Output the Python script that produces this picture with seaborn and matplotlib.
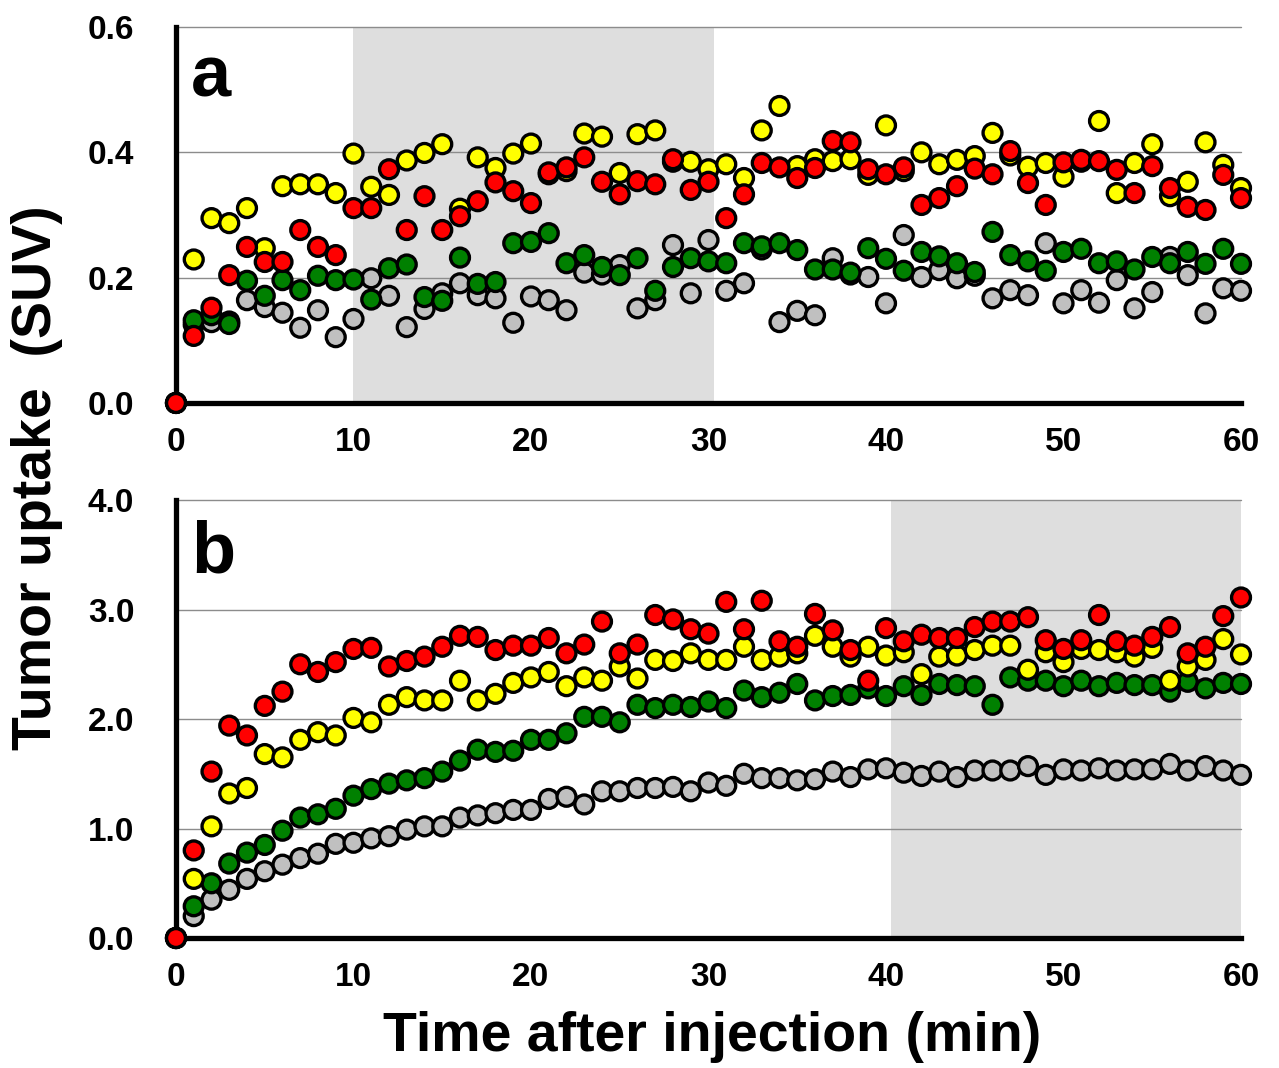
import numpy as np
import pandas as pd
import matplotlib.pyplot as plt
import seaborn as sns

minutes = list(range(61))

# panel a (SUV), minute 0..60
a_gray = [0, 0.125, 0.129, 0.13, 0.164, 0.153, 0.144, 0.12, 0.148, 0.105, 0.134,
          0.199, 0.171, 0.121, 0.15, 0.175, 0.191, 0.172, 0.167, 0.128, 0.17,
          0.164, 0.148, 0.208, 0.205, 0.22, 0.151, 0.164, 0.252, 0.175, 0.26,
          0.179, 0.191, 0.245, 0.129, 0.147, 0.14, 0.231, 0.205, 0.201, 0.159,
          0.268, 0.201, 0.212, 0.199, 0.203, 0.167, 0.18, 0.172, 0.255, 0.159,
          0.18, 0.16, 0.196, 0.151, 0.177, 0.233, 0.204, 0.143, 0.183, 0.179]
a_green = [0, 0.132, 0.14, 0.126, 0.195, 0.171, 0.196, 0.18, 0.203, 0.196, 0.197,
           0.165, 0.215, 0.221, 0.169, 0.163, 0.232, 0.19, 0.193, 0.255, 0.257,
           0.271, 0.223, 0.236, 0.217, 0.204, 0.231, 0.179, 0.217, 0.231, 0.226,
           0.223, 0.255, 0.25, 0.255, 0.244, 0.213, 0.213, 0.208, 0.247, 0.23,
           0.211, 0.241, 0.234, 0.223, 0.209, 0.273, 0.236, 0.226, 0.211, 0.241,
           0.246, 0.223, 0.226, 0.213, 0.233, 0.223, 0.241, 0.222, 0.246, 0.222]
a_yellow = [0, 0.229, 0.295, 0.287, 0.311, 0.247, 0.346, 0.349, 0.349, 0.335, 0.398,
            0.345, 0.332, 0.387, 0.399, 0.413, 0.31, 0.392, 0.375, 0.398, 0.414,
            0.365, 0.37, 0.43, 0.425, 0.367, 0.429, 0.435, 0.385, 0.385, 0.373,
            0.381, 0.359, 0.435, 0.474, 0.378, 0.389, 0.386, 0.389, 0.364, 0.443,
            0.37, 0.40, 0.381, 0.388, 0.394, 0.431, 0.395, 0.377, 0.383, 0.361,
            0.385, 0.45, 0.335, 0.383, 0.413, 0.33, 0.353, 0.416, 0.38, 0.343]
a_red = [0, 0.107, 0.152, 0.204, 0.249, 0.225, 0.225, 0.276, 0.249, 0.236, 0.311,
         0.311, 0.373, 0.276, 0.33, 0.276, 0.298, 0.322, 0.352, 0.338, 0.319,
         0.368, 0.376, 0.392, 0.353, 0.333, 0.354, 0.349, 0.389, 0.34, 0.353,
         0.295, 0.333, 0.383, 0.376, 0.359, 0.375, 0.418, 0.416, 0.373, 0.365,
         0.376, 0.316, 0.327, 0.346, 0.374, 0.365, 0.402, 0.351, 0.316, 0.384,
         0.388, 0.386, 0.372, 0.335, 0.378, 0.343, 0.313, 0.308, 0.364, 0.327]

# panel b (SUV), minute 0..60
b_gray = [0, 0.20, 0.35, 0.44, 0.54, 0.61, 0.67, 0.73, 0.77, 0.86, 0.87,
          0.91, 0.93, 0.99, 1.02, 1.02, 1.10, 1.12, 1.14, 1.17, 1.17,
          1.27, 1.29, 1.22, 1.34, 1.34, 1.37, 1.37, 1.38, 1.34, 1.42,
          1.39, 1.50, 1.46, 1.46, 1.44, 1.45, 1.52, 1.47, 1.54, 1.55,
          1.51, 1.48, 1.52, 1.47, 1.53, 1.53, 1.53, 1.57, 1.49, 1.54,
          1.53, 1.55, 1.53, 1.54, 1.54, 1.59, 1.53, 1.57, 1.53, 1.49]
b_green = [0, 0.29, 0.50, 0.68, 0.78, 0.85, 0.98, 1.10, 1.13, 1.18, 1.30,
           1.36, 1.41, 1.44, 1.46, 1.52, 1.62, 1.72, 1.70, 1.71, 1.81,
           1.81, 1.87, 2.02, 2.02, 1.97, 2.13, 2.10, 2.13, 2.11, 2.16,
           2.10, 2.26, 2.20, 2.24, 2.32, 2.17, 2.21, 2.22, 2.28, 2.21,
           2.30, 2.22, 2.32, 2.31, 2.30, 2.13, 2.38, 2.35, 2.35, 2.30,
           2.35, 2.30, 2.33, 2.31, 2.31, 2.25, 2.34, 2.28, 2.33, 2.32]
b_yellow = [0, 0.54, 1.02, 1.32, 1.37, 1.68, 1.65, 1.81, 1.88, 1.85, 2.01,
            1.97, 2.13, 2.20, 2.17, 2.17, 2.35, 2.17, 2.23, 2.33, 2.38,
            2.43, 2.30, 2.38, 2.35, 2.48, 2.37, 2.54, 2.53, 2.60, 2.54,
            2.54, 2.66, 2.54, 2.57, 2.60, 2.76, 2.66, 2.57, 2.66, 2.58,
            2.61, 2.41, 2.57, 2.58, 2.63, 2.67, 2.67, 2.45, 2.61, 2.52,
            2.64, 2.63, 2.61, 2.57, 2.65, 2.35, 2.48, 2.54, 2.73, 2.59]
b_red = [0, 0.80, 1.52, 1.94, 1.85, 2.12, 2.25, 2.50, 2.43, 2.52, 2.64,
         2.65, 2.48, 2.53, 2.57, 2.66, 2.76, 2.75, 2.63, 2.67, 2.67,
         2.74, 2.60, 2.68, 2.89, 2.60, 2.68, 2.95, 2.91, 2.82, 2.78,
         3.07, 2.82, 3.08, 2.71, 2.66, 2.96, 2.81, 2.63, 2.35, 2.83,
         2.71, 2.77, 2.74, 2.74, 2.84, 2.89, 2.89, 2.93, 2.72, 2.64,
         2.72, 2.95, 2.71, 2.67, 2.75, 2.84, 2.60, 2.66, 2.94, 3.11]

series_names = ["gray", "green", "yellow", "red"]
palette = {"gray": "#c0c0c0", "green": "#008000", "yellow": "#ffff00", "red": "#ff0000"}


def long_df(gray, green, yellow, red):
    frames = []
    for name, vals in zip(series_names, [gray, green, yellow, red]):
        frames.append(pd.DataFrame({"t": minutes, "suv": vals, "series": name}))
    return pd.concat(frames, ignore_index=True)


df_a = long_df(a_gray, a_green, a_yellow, a_red)
df_b = long_df(b_gray, b_green, b_yellow, b_red)

sns.set_style("white")
plt.rcParams["font.family"] = ["Liberation Sans", "DejaVu Sans"]
plt.rcParams["font.weight"] = "bold"
plt.rcParams["text.color"] = "black"
plt.rcParams["xtick.color"] = "black"
plt.rcParams["ytick.color"] = "black"

fig = plt.figure(figsize=(12.79, 10.68), dpi=100)
ax_a = fig.add_axes([0.1376, 0.6227, 0.8327, 0.352])
ax_b = fig.add_axes([0.1376, 0.1217, 0.8327, 0.4101])


def style_panel(ax, df, ymax, ystep, span, letter):
    ax.axvspan(span[0], span[1], color="#dedede", lw=0, zorder=0)
    for yv in np.arange(ystep, ymax + ystep / 2, ystep):
        ax.axhline(yv, color="#8c8c8c", lw=1.0, zorder=1, clip_on=False)
    sns.scatterplot(data=df, x="t", y="suv", hue="series", palette=palette,
                    s=185, edgecolor="black", linewidth=2.4, legend=False,
                    clip_on=False, zorder=4, ax=ax)
    ax.set_xlim(0, 60)
    ax.set_ylim(0, ymax)
    ax.set_xticks(range(0, 61, 10))
    yt = np.arange(0, ymax + ystep / 2, ystep)
    ax.set_yticks(yt)
    ax.set_yticklabels([f"{v:.1f}" for v in yt])
    ax.set_xlabel("")
    ax.set_ylabel("")
    for side in ["top", "right"]:
        ax.spines[side].set_visible(False)
    for side in ["left", "bottom"]:
        ax.spines[side].set_linewidth(3.8)
        ax.spines[side].set_color("black")
        ax.spines[side].set_zorder(3)
    ax.tick_params(axis="both", direction="in", length=7, width=3.8,
                   colors="black", labelsize=24)
    ax.tick_params(axis="x", pad=17)
    ax.tick_params(axis="y", pad=30)
    for lab in ax.get_xticklabels() + ax.get_yticklabels():
        lab.set_fontweight("bold")
    ax.text(0.014, 0.955, letter, transform=ax.transAxes, fontsize=52,
            fontweight="bold", va="top", ha="left", zorder=5)


style_panel(ax_a, df_a, 0.6, 0.2, (10, 30.3), "a")
style_panel(ax_b, df_b, 4.0, 1.0, (40.3, 60), "b")

fig.text(0.029, 0.5524, "Tumor uptake  (SUV)", rotation=90, fontsize=40,
         fontweight="bold", ha="center", va="center")
fig.text(0.557, 0.029, "Time after injection (min)", fontsize=40,
         fontweight="bold", ha="center", va="center")

fig.savefig("out.png", dpi=100)
